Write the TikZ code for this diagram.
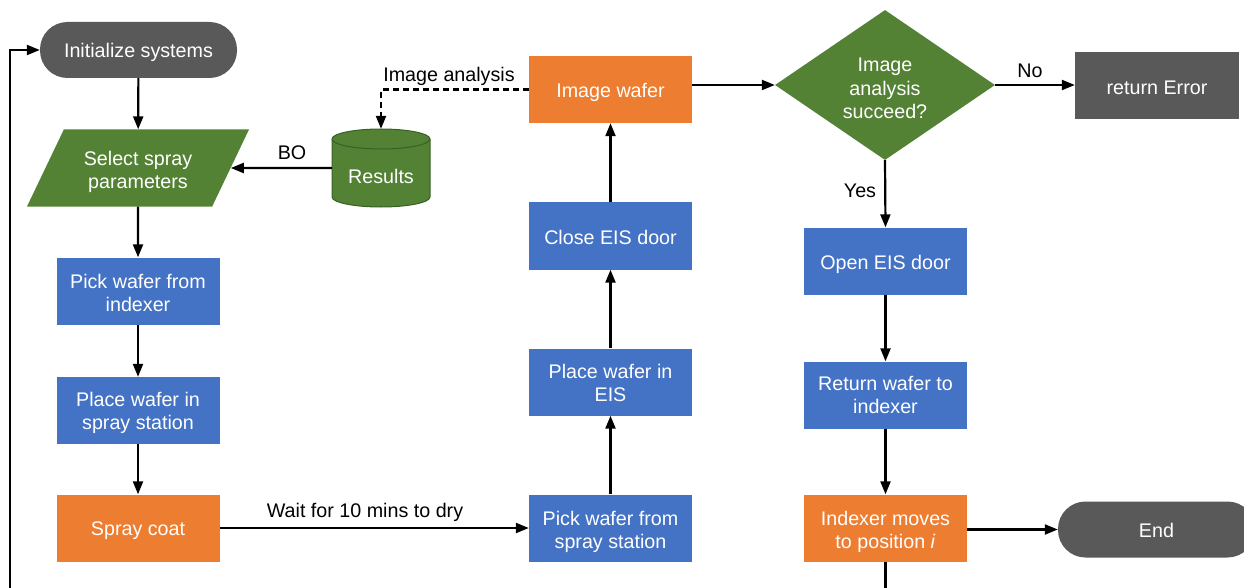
\documentclass[tikz,border=0pt]{standalone}
\usepackage{fontspec}
\setmainfont{Liberation Sans}
\usetikzlibrary{shapes.geometric,arrows.meta}
\definecolor{cblue}{HTML}{4472C4}
\definecolor{corange}{HTML}{ED7D31}
\definecolor{cgreen}{HTML}{548235}
\definecolor{cgreenline}{HTML}{3A5F24}
\definecolor{cgray}{HTML}{595959}
% set a (possibly multi-line) centred text a little lower, keeping its box size
\newcommand\lowered[2]{\raisebox{-#1}[\height][\depth]{\begin{tabular}{@{}c@{}}#2\end{tabular}}}
\begin{document}
\begin{tikzpicture}[x=1pt,y=1pt,
  every node/.style={font=\fontsize{19.7}{23.3}\selectfont},
  block/.style={rectangle, minimum width=163pt, minimum height=67pt,
    inner sep=0pt, align=center, text=white},
  bluebox/.style={block, fill=cblue},
  orangebox/.style={block, fill=corange},
  graybox/.style={block, fill=cgray, minimum width=164pt},
  terminal/.style={rectangle, rounded corners=27.5pt, minimum width=197pt,
    minimum height=56pt, fill=cgray, text=white, inner sep=0pt},
  decision/.style={diamond, minimum width=220pt, minimum height=150pt,
    aspect=1.47, inner sep=0pt, fill=cgreen, text=white, align=center},
  io/.style={trapezium, trapezium left angle=60, trapezium right angle=120,
    trapezium stretches=true, minimum width=222pt, minimum height=77pt,
    inner sep=0pt, fill=cgreen, text=white, align=center},
  flow/.style={line width=2.2pt, -{Triangle[length=13pt,width=10pt]}},
  lbl/.style={text=black, inner sep=0pt}
]
\useasboundingbox (0,0) rectangle (1244,-588);
\clip (0,0) rectangle (1244,-588);

% left column
\node[terminal] (init) at (138.5,-50) {\lowered{3pt}{Initialize systems}};
\node[io] (sel) at (138,-168) {\lowered{4pt}{Select spray\\parameters}};
\node[bluebox] (pick1) at (138,-291) {\lowered{4pt}{Pick wafer from\\indexer}};
\node[bluebox] (place1) at (138,-410.5) {\lowered{3pt}{Place wafer in\\spray station}};
\node[orangebox] (spray) at (138,-528) {\lowered{3pt}{Spray coat}};

% results store drawn as a cylinder
\fill[cgreen] (332,-139) -- (332,-197) arc[start angle=180, end angle=360, x radius=49, y radius=10]
  -- (430,-139) arc[start angle=0, end angle=180, x radius=49, y radius=10] -- cycle;
\draw[cgreenline, line width=1pt] (332,-139) -- (332,-197) arc[start angle=180, end angle=360, x radius=49, y radius=10]
  -- (430,-139) arc[start angle=0, end angle=180, x radius=49, y radius=10];
\draw[cgreenline, line width=1pt] (332,-139) arc[start angle=180, end angle=360, x radius=49, y radius=10];
\node[minimum width=98pt, minimum height=78pt, inner sep=0pt, text=white] (res) at (381,-168) {\lowered{11pt}{Results}};

% middle column
\node[orangebox] (img) at (610.5,-89.5) {\lowered{3pt}{Image wafer}};
\node[bluebox] (close) at (610.5,-236) {\lowered{4pt}{Close EIS door}};
\node[bluebox] (placeEIS) at (610.5,-382) {\lowered{3pt}{Place wafer in\\EIS}};
\node[bluebox] (pick2) at (610.5,-528) {\lowered{4pt}{Pick wafer from\\spray station}};

% right column
\node[decision] (dia) at (885,-85) {\lowered{5.5pt}{Image\\analysis\\succeed?}};
\node[graybox] (err) at (1157,-86) {\lowered{4pt}{return Error}};
\node[bluebox] (open) at (885.5,-261) {\lowered{4pt}{Open EIS door}};
\node[bluebox] (ret) at (885.5,-395) {\lowered{2.5pt}{Return wafer to\\indexer}};
\node[orangebox] (idx) at (885.5,-528) {\lowered{4pt}{Indexer moves\\to position \textit{i}}};
\node[terminal] (end) at (1156.5,-529.5) {\lowered{3pt}{End}};

% connectors
\draw[flow] (init) -- (sel);
\draw[flow] (sel) -- (pick1);
\draw[flow] (pick1) -- (place1);
\draw[flow] (place1) -- (spray);
\draw[flow] (res.west) -- (sel);
\node[lbl] (bo) at (292,-153) {BO};
\draw[flow, dash pattern=on 6pt off 4pt] (img.west) -| (res.north);
\node[lbl] (ia) at (449,-76.5) {Image analysis};
\draw[flow] (spray) -- (pick2);
\node[lbl] (wait) at (365,-512.5) {Wait for 10 mins to dry};
\draw[flow] (pick2) -- (placeEIS);
\draw[flow] (placeEIS) -- (close);
\draw[flow] (close) -- (img);
\draw[flow] (img.east |- dia.west) -- (dia.west);
\draw[flow] (dia.east) -- (dia.east -| err.west);
\node[lbl] (no) at (1030,-71) {No};
\draw[flow] (dia.south) -- (open.north);
\node[lbl] (yes) at (860,-191) {Yes};
\draw[flow] (open) -- (ret);
\draw[flow] (ret) -- (idx);
\draw[flow] (idx.east |- end.west) -- (end.west);

% return loop back to the start
\coordinate (loopB) at (885.5,-620);
\coordinate (loopL) at (10,-620);
\draw[flow] (idx.south) -- (loopB) -- (loopL) |- (init.west);
\end{tikzpicture}
\end{document}
